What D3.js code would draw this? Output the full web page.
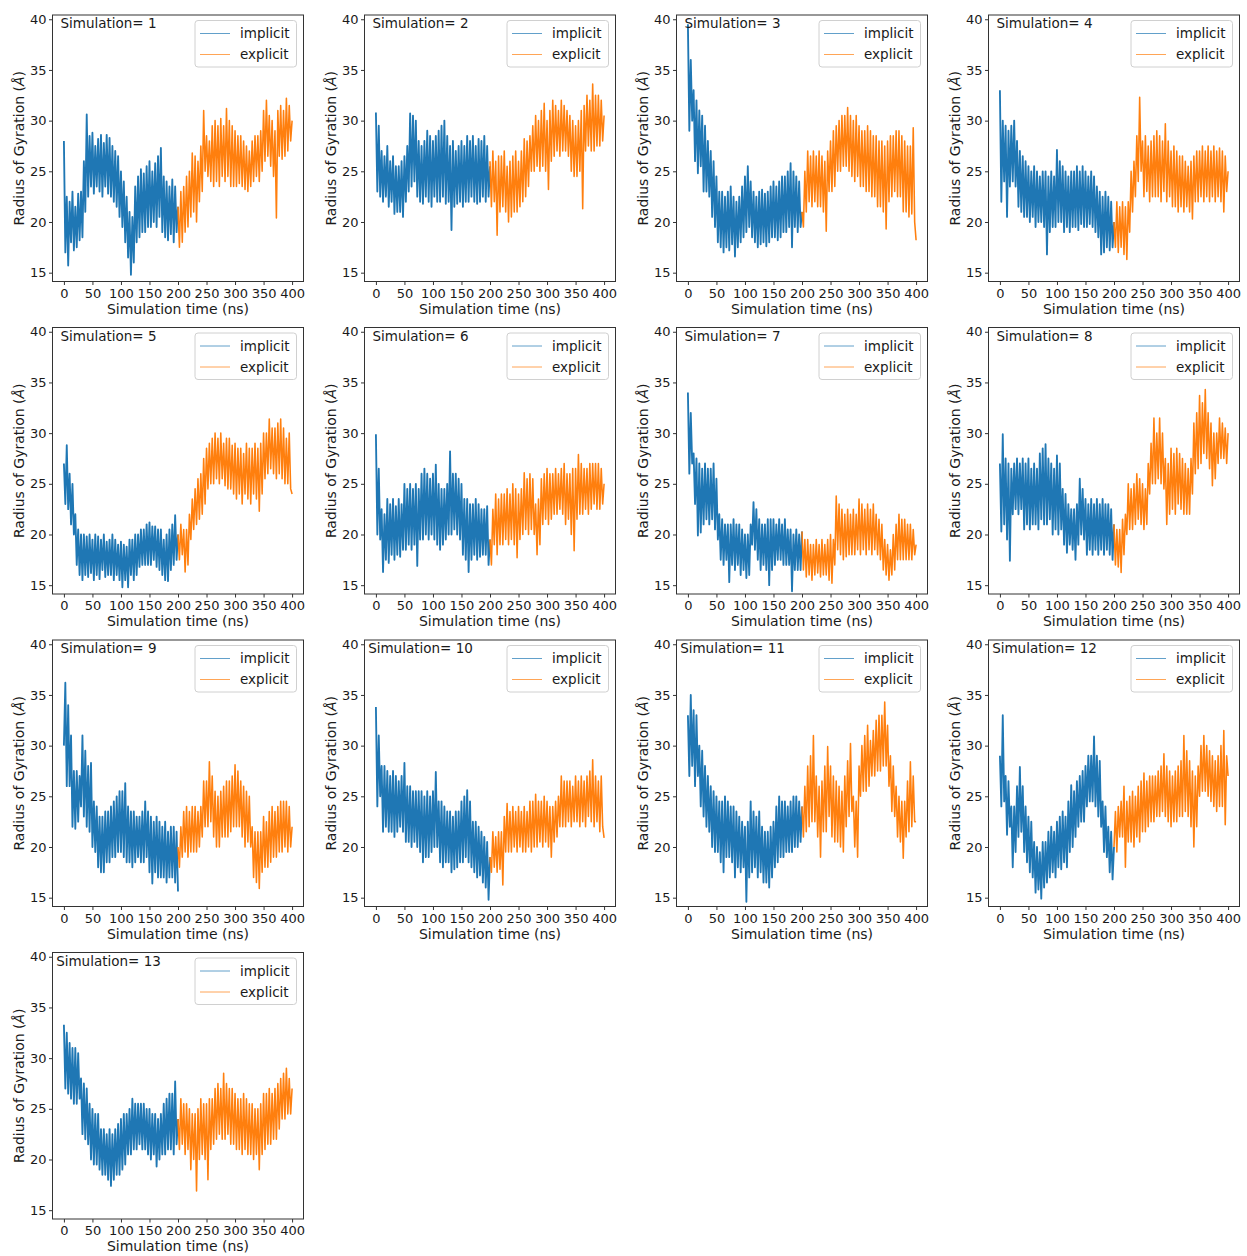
<!DOCTYPE html>
<html>
<head>
<meta charset="utf-8">
<script src="https://cdn.jsdelivr.net/npm/d3@7"></script>
<style>
  body { margin: 0; background: #fff; }
  text { font-family: "DejaVu Sans", sans-serif; fill: #1a1a1a; }
</style>
</head>
<body>
<svg id="chart" width="1247" height="1256"></svg>
<script>
// Radius of gyration traces, one panel per simulation.
// Implicit-solvent phase covers 0-200 ns, explicit-solvent phase 200-400 ns;
// each trace is sampled every 2.5 ns.
const simulationIds = [1, 2, 3, 4, 5, 6, 7, 8, 9, 10, 11, 12, 13];
const seriesNames = ["implicit", "explicit"];
const seriesSpans = [[0, 200], [200, 400]];
const xTicks = [0, 50, 100, 150, 200, 250, 300, 350, 400];
const yTicks = [15, 20, 25, 30, 35, 40];

const implicitRg = [
  [28,17,22.5,15.7,22,18,23,17.2,21.5,17.5,22.8,18.2,23,18.5,26,21,30.6,22.5,28.5,23.5,28.8,22.8,27.5,23.5,28.2,23,28.6,22.5,27.8,23.5,28.6,22.8,28.3,22.5,27.5,22,27,21.5,26.5,20.5,25,19.5,24,18,22.5,16.5,21,14.8,20.5,16,23.5,18,24.5,18.5,25.2,19,24.8,19,25.5,19.5,26,19.5,25,20,25.8,19.5,26.5,20.5,27.3,19,24.5,18.5,24,18.2,23.5,18.8,24.2,18,23.5,19,21.5],
  [30.8,23,29.5,22.5,27,22,26.5,22.5,27.5,21.5,26,22,26.5,20.8,25.5,21,25.5,21,26,20.5,26.5,22,27.5,23,30.7,23.5,30.5,24,30,22.5,28,22,27.5,21.8,28,22.5,29,22,28.5,21.5,28,22.5,28.5,22,29,22,29.5,22.5,30,21.8,28.5,22,27.5,19.2,28,21.5,27,21.8,27.5,22,28,21.5,27.5,22,28.5,22,28,22.5,28.5,22,27.5,21.8,28.2,22,28,22.5,28.5,22,27.5,22.5,25.5],
  [39.5,29,36,30,33,26,32,24.8,31,25.5,30.5,23,29.5,23,28,22.5,27,20.5,26,19.5,24.5,18,23,17.5,23,17,22.5,17.5,23,17.2,23.5,17.8,22.5,16.6,22,17.5,22.5,18,23.5,18.5,24.5,19,25.5,19.5,24,18.5,23,18,22.5,17.5,23,17.8,23.2,18,22.8,17.6,23,18,23.5,18.5,24,18.5,23.5,18.2,24,18.5,24.5,19,24.5,19,25,19.5,25.8,17.5,25,19.5,24.5,19,24,19.5,21],
  [33,22,30,24,29.5,20.5,29,23.5,29.5,24,30,23.5,28,21.5,27,21,26.5,20.5,26,20.5,25.5,20,25,20.5,25.5,19.5,25,20,24.5,20,25,19.5,25,16.8,24.5,19,25,19.5,24.5,19.5,27.1,20,26,20,25.5,19,25,19.5,24.5,19,25,19.5,25,19.5,25.5,19.2,25,19.8,25.5,19.5,25,19.5,24.5,19.8,25,19.5,24.5,19,23.5,18.5,23,16.8,22.5,17,23,17.5,22.5,17.2,22,17.5,20],
  [27,23,28.8,22.5,26,21,25,20,22,17,20.5,16,20,15.5,20,16,19.8,15.8,20,16.2,19.5,15.5,20,16,19.8,15.6,19.5,16.5,20,15.8,19.3,16,19.5,16,20,15.5,19.5,16,19,15.5,19.3,14.8,19,15.5,18.8,14.8,19.5,16,19.5,15.5,20,16,20,16.8,20.5,17,20.5,17,21,17,21.2,17,20.8,17.5,20.8,16.8,20.5,16.5,20.5,16,19.5,15.5,20,15.4,20.5,16.5,21,17,21.9,17.5,20],
  [29.9,20,26.5,19.5,22.5,16.3,22,17.5,23.5,17.2,23,18,23.5,17.5,22.8,18,23.5,17.8,23,18.5,25,18.5,24.5,19,25,18.5,24.5,19,25,16.9,24.5,19.5,26,19.5,26.5,20,26,19.5,25.5,20,26,19.5,26.9,19,25,18.5,24.5,19,24.5,19.5,25,20,28.2,20,26,20.5,26,20,25.5,19.5,25,18,23.5,17.5,23.5,16.3,23,17.5,23,18,23.5,17.5,23,17.8,22.5,18,22.5,18,22.8,17,19.5],
  [34,26,32,27,28,23,27.5,19.9,27,20.2,26.5,21,27,21.5,26.5,21,26.5,21.5,27,20.5,25.5,19.5,22,17.5,21.5,17,21,17.5,21,15.3,21,17,21.5,16.5,21,17,21,16,20.5,16.5,20,15.7,20,16,21,19,23.2,18.5,22.5,17.5,21.5,16.5,21,17,21,16.5,21.5,15,21.5,16.5,21.5,17,21,17.5,21.5,17.5,21,17,21.5,17,20.5,17,20.5,14.4,20,16.5,20.5,16.5,20,16.5,20.3],
  [27,20.3,29.9,21,27.5,19.5,27,17.4,26.5,22,27,22.5,27.5,22,27,22.5,27.5,20.5,27,21,27.5,20.5,26.5,21,27,21,26.5,20.5,28,21.5,28.5,21,28.9,21,27.5,21.5,27,20,26.5,20.5,27.8,20,27,20.5,24.5,19,24,18.2,23,19,22.5,18.5,22.5,17.5,23,19,25.5,20,24.5,19.5,23.5,18,23,18.5,23.5,18,23,18.5,23.5,18,23,18.5,23.5,18,23,18.5,23,18,22.5,17.5,21],
  [30,36.2,26,34,26,31,22,27.5,21.8,27.5,22.5,27,24,31,23,29.5,22,28,21.5,28.3,20,24.5,19.5,24,18,23,17.5,23,17.5,23.5,18.5,23.5,18.5,24,19,24.5,19,25,19.5,25.5,19.5,25.5,19,26.3,18.5,24,18.5,23.5,18,23.5,18.5,23,19,23,18.5,23.5,18.5,24.5,19,23.5,17.5,23,16.4,22.5,17.5,23,17,22.5,17,22,17,22.5,16.5,21.5,17,22,17,22,16.5,21.5,15.6],
  [33.8,24,31,25,28,21.5,28,22,27.5,21.5,27,21.5,27.5,21,27,21.5,26.5,22,27,21.5,28.3,20.5,26,20.5,26,20,25.5,20.5,25.5,20,25.5,19.5,25.5,18.5,25,19,25.5,19,25,19.5,25.5,20,27.4,20,24.5,18.5,24.5,18,24,18.5,23.5,18.5,23.5,17.5,23,17.8,23.5,18,23.5,18.5,24.5,18.5,25,19,25.6,18.5,24.5,18,22.5,17.5,22.5,17,22,17.2,21.5,16.5,21,16,20.5,14.8,19],
  [33,27,35,28,33.5,26,33,27,30,24,29.5,23,28,22,27,21.5,26,20,25.5,19.5,25,19.5,24.5,18.5,24.5,17.5,25,19,24.5,19,24,18.5,24,17,23.5,18,23,17.5,22.5,18,22,14.6,22.5,17,24.5,17.5,23.5,18,23,17,23.5,17.5,22,16.5,21.5,16.5,21.5,16,22,17,22.5,18,24,18.5,25,19,24.5,19,24.5,19.5,24,19.5,24.5,19.5,25,20,25,20,24.5,20.5,24],
  [29,24,33,24.5,27,21.2,26.5,22,24,18,24,19.5,26,21,27.9,21.5,26,19.5,24,18.5,23,17.5,22.5,17,20.5,15.5,20,15.8,19.5,14.9,20.5,16,20.5,16.5,21.5,17,22,17.5,21.5,17,22.5,18,23,17.8,23.5,18.5,23,18,24.5,19.5,26.1,20,25.5,21,26.5,22,27,22.5,27.5,22.5,28,24,29,24.5,29,24.5,30.9,24,29,23,28.5,22,24.5,19.5,24,19,22,17.5,21.5,16.8,20],
  [33.3,27,32.5,26.5,31.5,26,31,25.5,31,25.5,30.5,26,28,22.5,27.5,22,27,21.5,25.5,20,25,19.5,24.5,19.5,24.5,19,23,18.5,23,18.5,22.5,18,23,17.4,22.5,18,23,18.5,23.5,18.5,24,19,24.5,19.5,24.5,20.5,25,20.5,26,21,25.5,21,25.5,21.5,25.5,21,25.5,21,25,20.5,25,20,24.5,20.5,24.5,19.3,24,20,24.5,20.5,25.5,20.5,26,21,26.5,21,26.5,20.5,27.7,21.5,24]
];

const explicitRg = [
  [21.5,17.5,23,18,23.5,19,24.5,19.5,25,20.5,26.8,21,26.5,20,26,22,27.5,23,31,25,28.5,24.5,28,24,29.5,23.5,30,24,29.5,23.5,30.2,24.5,29.5,24,31.2,24.5,30,23.5,29.5,23.5,29,23.5,28.5,23.8,28.5,23.5,28,23.2,27.5,23,27,23.5,28,24,28.5,24.5,28.5,24,29,25,31,26,32,26.5,30.5,25.5,30,24.5,29,20.4,31,26.5,31.5,26.2,31,26.5,32.2,27,31.5,28,30],
  [26,21.5,27,22,26,18.7,26.5,21,26.5,21.5,27,21,25.5,20,26,20.5,26.5,21,27,21,26,21.5,27,22,28.2,22.5,28,23.5,28.5,25,29.5,25,30.5,25.5,30,25,31,25.5,31.7,25,30,23.2,31,26,32,26.5,31.5,27,31,26.5,32,27,31.5,27,31,26.5,30.5,25,30,24.5,29.5,24.5,30,25,31,21.3,31.5,27,32.5,27.5,32,27,33.6,27,32.5,27.5,32.5,27.5,32,28,30.5],
  [21,19.5,25,21,27,22,26.5,21.5,27,22,26.5,21.5,27,21.5,26.5,21,26,19.1,27,23,28,23,29,23.5,29.5,25,30,25,30.5,25.5,30.5,25.5,31.3,25,30.5,24.5,30,24,30.5,24.5,29.5,23.5,29,23.5,29,23,29.5,23,29,22.5,28.5,22.5,28.5,21.5,28,21.5,28,21,27.5,19.3,28,22,28.5,22.5,28.5,23,29,22.5,29,22.5,28.5,21,28,21,27.5,20.5,27.5,20.8,29.3,20,18.2],
  [20,17.5,22,17,21.5,17.5,22,16.8,21.5,16.3,22,19,25,21,26,22.5,28.5,24,32.3,25,28,22.5,28.5,23,27.5,22,28,22.5,28.5,22.5,29,22.5,28.5,22,28,23,29.7,22,28,22.5,27,21.5,27.5,21.5,27,21,26.5,21.5,26.5,21,26,21.5,25.5,21,26,20.3,26.5,22,27,22,27,22.5,27.5,22,27,22.5,27.5,22,27,22.5,27.5,22,27,22.5,27.3,22,27,21,26.5,23,25],
  [20,17.5,21,18,20.5,16.3,20.5,17,22,19.5,23.5,20.5,24.5,21,25.5,21.5,26,22,27.5,23,28.5,24.5,29,25,29.5,25,30,25.5,29.5,25,30,25.5,29,24.8,29.5,24.5,29.5,24.5,28.8,24,29,23.5,28.5,24,28.5,23,28,24,29,23.5,28.5,23,28.5,24,29,23.5,28.5,22.3,29,24,30,25.5,30,26,31.4,26.5,30.5,26,30.5,25.5,31,26,31.4,25.5,30.5,25,29.5,25,30,24.5,24],
  [19.5,17,22.5,19,24,18,23.5,19,24,19,24,19.5,24.5,19,24,19.5,25,19,24.5,17.7,24,19.5,24.5,20,26.1,20.5,25.5,20,26,20.5,25.5,20,23,18,23.5,19,25.5,21,26,21.5,26.5,21,26,21.5,26,22,26.5,22,26,22.5,26.5,22,27,21,26,21.5,26,20,26.5,18.4,26.5,21.5,27.9,22,27,22,26.5,22.5,26.5,22,27,22.5,27,23,27,22.5,27,22.5,26.5,23,25],
  [20.3,16.5,19.5,15.8,19.5,16,19,15.5,19,16,19.5,16.2,19,15.8,19.5,16,19,16,19.5,15.5,20,15.2,19.5,17,23.8,18.5,23,18,22.5,17.5,22,17.8,22.5,18,22,18,22.5,18,22,18.5,23.5,18,23,18.5,22.5,18,23,18.5,22.5,18,23,18.5,22,18,21.5,17.5,21,16.5,19.5,16,19,15.5,18.5,16,20,16.5,21,17.5,22,17.5,21.5,17.5,21.5,17.5,21,17.5,21,17.5,20.5,18,19],
  [21,17,20.5,16.8,20.5,16.25,21.5,18,22,20,25,20.5,24.5,20.5,25,21,26,21.5,25.5,21,25,20.5,24.5,21,27,24,29,25,31.5,25,30,25.5,31.5,25,30,24.5,27.5,21,27,22,28.5,22.5,28,22,28.5,23,28,22.5,27.5,22,27,22,26.5,22,27.5,24,31,26,32,26.5,33.7,27,33,28,34.3,27.5,32,26.5,31,24.8,30,25.5,30,27,31.5,27.5,31,27.5,30.5,27,30],
  [20,18,22,19,23.5,19.5,24,19,23.5,19.5,24,19.5,24,19.5,23.5,20,24,21,26.5,22,26.5,22,28.4,22.5,27,21,25.5,20,25,20,25.5,21,26,21,26.5,21,26.5,21.5,27,22,28.1,22,27.5,22,26.5,21,26,20,25.5,20.5,25,20,22,17,21.5,16.5,21.5,15.9,21.5,17.5,23,18,22.5,18,23.5,18.5,24,19,23.5,19,24,19.5,24.5,19.5,24.5,20,24.5,19.5,24,20,22],
  [19,17.5,21.5,18,21,17.5,21.5,17.8,21.5,16.25,23,19.5,24.3,19.5,23.5,19.5,24,20,23.5,19.5,24,20,23.5,19.5,24,19.5,23.5,20,24.5,19.5,24.5,20,25.2,20,24.5,20.5,24.5,20,25,20.5,24.5,20,24,19,24,20.5,24.5,21,25,22,27,22,26.5,22,26.5,22.5,26.5,22,26,22.5,27,22.5,26.5,22,27,22.5,26.5,22,27,23,27.5,22.5,28.6,22,27,22.5,26.5,21.5,27,22,20.9],
  [24,21,26,21.5,28,22,29,22.5,31,22.5,27,21,26,19,26.5,21.5,28,21.5,29.9,23,28,21,27,20.5,26.5,20.5,26,20,25.5,19.5,27,22,28.5,23,30.2,23.5,25,20,24.5,19,28,25,30,25.5,31,25.5,32,26,30.5,27,31.5,27,32.5,27.5,33,27.5,33,28,34.3,28,32,26,29,23.5,28,23,26,21,25,20.5,24.5,18.9,24.5,21,26.5,21.5,28.4,22,27,22.5,22.5],
  [20,23.5,19.5,24,21,24.5,21,26,18,24.5,20.5,25,20.5,25.5,20,25,21,26,20.5,26.5,21.5,27.3,21.5,26.5,22,27,22.5,27,22.5,27,23,27.5,23,28,23.5,29.2,23,28,22.5,27.5,22,27,22.5,27.5,22.5,28,23,28.5,23,31,23.5,29.5,23,28.5,22,27.5,20,27,22,28,25,30,25.5,31,25.5,30,25,29.5,24.5,29,24,28.5,23.5,29,24,30,24,31.5,22.2,29,27],
  [24,21,26,21.5,25.5,20.5,25.5,21,25,19,24.5,20,24.5,16.9,25,20,26,20.5,25.5,20,25.5,18,26,21,26,21.5,27,22,27.5,22.5,27,22,28.5,22,27.5,22.5,27,21.5,27,21.5,26.5,21,26,21,26,20.5,26.5,21,26,20.5,25.5,20.5,25.5,20,25,20.5,25,19,25.5,20.5,26.5,21,26.5,21.5,27,21.5,26.5,22,27,22,27.5,23,28,24,28.5,24,29,24.5,28,24.5,27]
];

// ---- layout ----
const seriesColors = ["#1f77b4", "#ff7f0e"];
const seriesWidths = [1.85, 1.55];
const frameW = 251, frameH = 266.5;
const originX = 52.5, originY = 15, stepX = 312, stepY = 312.5;
const nCols = 4;

const svg = d3.select("#chart");

svg.append("defs").append("clipPath")
  .attr("id", "plot-clip")
  .append("rect")
  .attr("width", frameW)
  .attr("height", frameH);

const x = d3.scaleLinear().domain([-20, 420]).range([0, frameW]);
const y = d3.scaleLinear().domain([14.13, 40.42]).range([frameH, 0]);

simulationIds.forEach((sim, k) => {
  const col = k % nCols, row = Math.floor(k / nCols);
  const g = svg.append("g")
    .attr("transform", `translate(${originX + col * stepX},${originY + row * stepY})`);

  // traces
  const traces = [implicitRg[k], explicitRg[k]];
  const plot = g.append("g").attr("clip-path", "url(#plot-clip)");
  traces.forEach((vals, s) => {
    const [t0, t1] = seriesSpans[s];
    const dt = (t1 - t0) / (vals.length - 1);
    const line = d3.line()
      .x((d, i) => x(t0 + i * dt))
      .y(d => y(d));
    plot.append("path")
      .datum(vals)
      .attr("d", line)
      .attr("fill", "none")
      .attr("stroke", seriesColors[s])
      .attr("stroke-width", seriesWidths[s])
      .attr("stroke-linejoin", "round");
  });

  // axes
  const yAxis = g.append("g")
    .call(d3.axisLeft(y).tickValues(yTicks).tickSize(3.5).tickPadding(2.5));
  const xAxis = g.append("g")
    .attr("transform", `translate(0,${frameH})`)
    .call(d3.axisBottom(x).tickValues(xTicks).tickSize(3.5).tickPadding(3.5));
  [xAxis, yAxis].forEach(ax => {
    ax.select(".domain").remove();
    ax.attr("font-family", null).attr("font-size", null);
    ax.selectAll("line").attr("stroke", "#333");
    ax.selectAll("text").style("font-size", "13px").attr("fill", "#1a1a1a");
  });

  // frame
  g.append("rect")
    .attr("width", frameW)
    .attr("height", frameH)
    .attr("fill", "none")
    .attr("stroke", "#333")
    .attr("stroke-width", 1);

  // axis labels
  g.append("text")
    .attr("x", frameW / 2)
    .attr("y", frameH + 32)
    .attr("text-anchor", "middle")
    .style("font-size", "14px")
    .text("Simulation time (ns)");

  const yl = g.append("text")
    .attr("transform", `translate(-28.5,${frameH / 2}) rotate(-90)`)
    .attr("text-anchor", "middle")
    .style("font-size", "14px");
  yl.append("tspan").text("Radius of Gyration (");
  yl.append("tspan").attr("font-style", "italic").text("Å");
  yl.append("tspan").text(")");

  // panel title
  g.append("text")
    .attr("x", 56)
    .attr("y", 13.3)
    .attr("text-anchor", "middle")
    .style("font-size", "13.5px")
    .text(`Simulation= ${sim}`);

  // legend
  const lg = g.append("g").attr("transform", `translate(${frameW - 108.5},5.5)`);
  lg.append("rect")
    .attr("width", 101.5)
    .attr("height", 46.5)
    .attr("rx", 3)
    .attr("fill", "#fff")
    .attr("fill-opacity", 0.8)
    .attr("stroke", "#d0d0d0")
    .attr("stroke-width", 1);
  seriesNames.forEach((name, s) => {
    const cy = 13 + s * 21;
    lg.append("line")
      .attr("x1", 5).attr("x2", 35)
      .attr("y1", cy).attr("y2", cy)
      .attr("stroke", seriesColors[s])
      .attr("stroke-opacity", 0.7)
      .attr("stroke-width", 1);
    lg.append("text")
      .attr("x", 45)
      .attr("y", cy + 4.8)
      .style("font-size", "13.5px")
      .text(name);
  });
});
</script>
</body>
</html>
